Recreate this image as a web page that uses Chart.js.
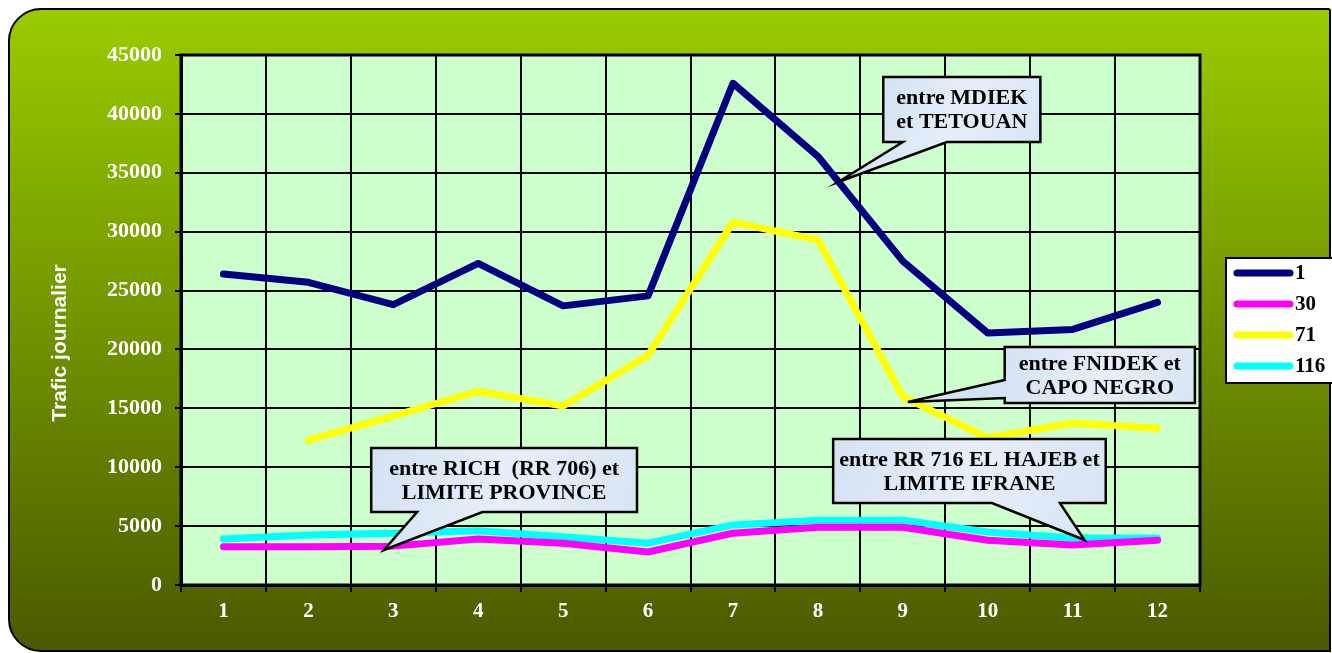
<!DOCTYPE html>
<html>
<head>
<meta charset="utf-8">
<script src="https://cdn.jsdelivr.net/npm/chart.js"></script>
<style>
  html, body { margin: 0; padding: 0; background: #fff; }
  #wrap { width: 1332px; height: 653px; }
</style>
</head>
<body>
<div id="wrap"><canvas id="trafic" width="1332" height="653"></canvas></div>
<script>
// months 1..12
const months = ['1', '2', '3', '4', '5', '6', '7', '8', '9', '10', '11', '12'];
const route1 = [26400, 25700, 23800, 27300, 23700, 24550, 42600, 36400, 27500, 21400, 21700, 24000];
const route30 = [3250, 3250, 3300, 3900, 3550, 2800, 4400, 4900, 4900, 3800, 3400, 3800];
const route71 = [null, 12300, 14350, 16450, 15200, 19500, 30800, 29300, 16000, 12500, 13750, 13300];
const route116 = [3900, 4250, 4400, 4600, 4100, 3550, 5100, 5500, 5500, 4500, 4000, 4000];
const seriesNames = ['1', '30', '71', '116'];
const yTitle = 'Trafic journalier';

// callouts: box / wedge / tip in data units (x = month index, y = traffic)
const callouts = [
  { lines: ['entre MDIEK', 'et TETOUAN'], box: [7.77, 43130, 9.62, 37610], side: 'bottom', base: [8.0, 8.52], tip: [7.24, 34220] },
  { lines: ['entre FNIDEK et', 'CAPO NEGRO'], box: [9.20, 20210, 11.44, 15450], side: 'left', base: [17400, 15880], tip: [8.06, 15540] },
  { lines: ['entre RICH  (RR 706) et', 'LIMITE PROVINCE'], box: [1.74, 11630, 4.87, 6200], side: 'bottom', base: [2.28, 3.05], tip: [1.89, 2970] },
  { lines: ['entre RR 716 EL HAJEB et', 'LIMITE IFRANE'], box: [7.18, 12400, 10.39, 6960], side: 'bottom', base: [9.05, 9.85], tip: [10.14, 3820] }
];

const colors = ['#000080', '#ff00ff', '#ffff00', '#00ffff'];
const serif = '"Liberation Serif", "Times New Roman", serif';

const decor = {
  id: 'decor',
  beforeDraw(chart) {
    const ctx = chart.ctx;
    const a = chart.chartArea;
    ctx.save();
    const g = ctx.createLinearGradient(0, 9, 0, 651);
    g.addColorStop(0, '#99cc00');
    g.addColorStop(1, '#4a5a00');
    ctx.beginPath();
    ctx.roundRect(9, 9, 1321, 642, [32, 2, 0, 32]);
    ctx.fillStyle = g;
    ctx.fill();
    ctx.lineWidth = 2;
    ctx.strokeStyle = '#000';
    ctx.stroke();
    ctx.fillStyle = '#ccffcc';
    ctx.fillRect(a.left, a.top, a.right - a.left, a.bottom - a.top);
    ctx.restore();
  },
  beforeDatasetsDraw(chart) {
    const ctx = chart.ctx;
    const a = chart.chartArea;
    ctx.save();
    ctx.lineWidth = 3;
    ctx.strokeStyle = '#000';
    ctx.strokeRect(a.left, a.top, a.right - a.left, a.bottom - a.top);
    ctx.restore();
  },
  afterDatasetsDraw(chart) {
    const ctx = chart.ctx;
    const xs = chart.scales.x, ys = chart.scales.y;
    const px = v => xs.getPixelForValue(v);
    const py = v => ys.getPixelForValue(v);
    ctx.save();
    callouts.forEach(c => {
      const x1 = px(c.box[0]), y1 = py(c.box[1]), x2 = px(c.box[2]), y2 = py(c.box[3]);
      const tx = px(c.tip[0]), ty = py(c.tip[1]);
      ctx.beginPath();
      ctx.moveTo(x1, y1);
      ctx.lineTo(x2, y1);
      ctx.lineTo(x2, y2);
      if (c.side === 'bottom') {
        ctx.lineTo(px(c.base[1]), y2);
        ctx.lineTo(tx, ty);
        ctx.lineTo(px(c.base[0]), y2);
        ctx.lineTo(x1, y2);
      } else {
        ctx.lineTo(x1, y2);
        ctx.lineTo(x1, py(c.base[1]));
        ctx.lineTo(tx, ty);
        ctx.lineTo(x1, py(c.base[0]));
      }
      ctx.closePath();
      const g = ctx.createLinearGradient(x1, y1, x2, y2);
      g.addColorStop(0, '#d4e2f4');
      g.addColorStop(0.5, '#e6eefa');
      g.addColorStop(1, '#d8e5f5');
      ctx.fillStyle = g;
      ctx.fill();
      ctx.lineWidth = 2.5;
      ctx.lineJoin = 'miter';
      ctx.strokeStyle = '#000';
      ctx.stroke();
      ctx.fillStyle = '#000';
      ctx.font = 'bold 22px ' + serif;
      ctx.textAlign = 'center';
      ctx.textBaseline = 'middle';
      const cx = (x1 + x2) / 2, cy = (y1 + y2) / 2;
      const lh = 24;
      c.lines.forEach((t, i) => {
        ctx.fillText(t, cx, cy + 1 + (i - (c.lines.length - 1) / 2) * lh);
      });
    });
    ctx.restore();
  },
  afterDraw(chart) {
    const ctx = chart.ctx;
    ctx.save();
    // axis title
    ctx.translate(60, 343);
    ctx.rotate(-Math.PI / 2);
    ctx.fillStyle = '#fff';
    ctx.font = 'bold 21px "Liberation Sans", Arial, sans-serif';
    ctx.textAlign = 'center';
    ctx.textBaseline = 'middle';
    ctx.fillText(yTitle, 0, 0);
    ctx.restore();

    // legend
    ctx.save();
    ctx.fillStyle = '#fff';
    ctx.fillRect(1226, 258, 110, 125);
    ctx.lineWidth = 2;
    ctx.strokeStyle = '#000';
    ctx.strokeRect(1226, 258, 110, 125);
    ctx.font = 'bold 21px ' + serif;
    ctx.textBaseline = 'middle';
    ctx.lineCap = 'round';
    chart.data.datasets.forEach((ds, i) => {
      const y = 273 + i * 31;
      ctx.strokeStyle = ds.borderColor;
      ctx.lineWidth = 7;
      ctx.beginPath();
      ctx.moveTo(1237, y);
      ctx.lineTo(1290, y);
      ctx.stroke();
      ctx.fillStyle = '#000';
      ctx.fillText(ds.label, 1295, y + 1);
    });
    ctx.restore();
  }
};

const seriesData = [route1, route30, route71, route116];

new Chart(document.getElementById('trafic'), {
  type: 'line',
  data: {
    labels: months,
    datasets: seriesNames.map((name, i) => ({
      label: name,
      data: seriesData[i],
      borderColor: colors[i],
      backgroundColor: colors[i],
      borderWidth: 7,
      borderCapStyle: 'round',
      borderJoinStyle: 'round',
      pointRadius: 0,
      tension: 0,
      spanGaps: false
    }))
  },
  options: {
    responsive: false,
    animation: false,
    layout: { padding: { top: 55, right: 132, bottom: 0, left: 0 } },
    plugins: { legend: { display: false }, tooltip: { enabled: false } },
    scales: {
      x: {
        offset: true,
        grid: { offset: true, color: '#000', lineWidth: 2, tickLength: 7, drawTicks: true },
        border: { color: '#000', width: 3 },
        ticks: { color: '#fff', font: { family: serif, size: 21, weight: 'bold' }, padding: 7, maxRotation: 0 },
        afterFit: s => { s.height = 68; }
      },
      y: {
        min: 0,
        max: 45000,
        ticks: {
          stepSize: 5000,
          color: '#fff',
          font: { family: serif, size: 22, weight: 'bold' },
          padding: 13,
          callback: v => String(v)
        },
        grid: { color: '#000', lineWidth: 2, tickLength: 6 },
        border: { color: '#000', width: 3 },
        afterFit: s => { s.width = 181; }
      }
    }
  },
  plugins: [decor]
});
</script>
</body>
</html>
